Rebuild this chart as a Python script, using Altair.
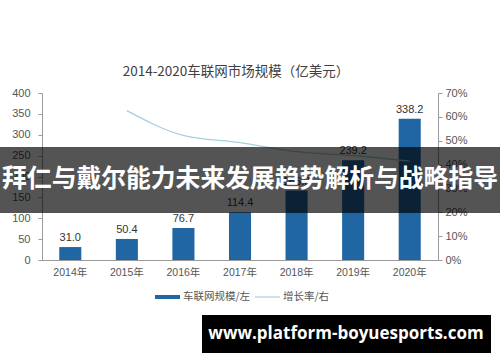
import altair as alt
import pandas as pd

years = ["2014年", "2015年", "2016年", "2017年", "2018年", "2019年", "2020年"]
market_size = [31.0, 50.4, 76.7, 114.4, 166.3, 239.2, 338.2]
growth_rate = [None, 0.626, 0.522, 0.492, 0.454, 0.438, 0.414]
left_ticks = [0, 50, 100, 150, 200, 250, 300, 350, 400]
right_ticks = [0, 0.1, 0.2, 0.3, 0.4, 0.5, 0.6, 0.7]

title_text = "2014-2020车联网市场规模（亿美元）"
legend_bar = "车联网规模/左"
legend_line = "增长率/右"
banner_text = "拜仁与戴尔能力未来发展趋势解析与战略指导"
site_text = "www.platform-boyuesports.com"

df = pd.DataFrame({"year": years, "size": market_size, "growth": growth_rate})
one = pd.DataFrame({"k": [0]})

BAR = "#1f66a3"
LINE = "#a6d0dc"
FONT = "Liberation Sans, Noto Sans CJK SC"
CJK = "Noto Sans CJK SC"

xscale = alt.Scale(paddingInner=0.61, paddingOuter=0.305)
x_axis = alt.Axis(title=None, labelAngle=0, ticks=False, domainColor="#9a9a9a",
                  labelColor="#555555", labelFontSize=10.5, labelPadding=7, labelFont=FONT)
x = alt.X("year:N", sort=years, scale=xscale, axis=x_axis)

ldomain = alt.Scale(domain=[0, 400])
yleft = alt.Y("size:Q", scale=ldomain,
              axis=alt.Axis(title=None, values=left_ticks, grid=False, domainColor="#9a9a9a",
                            tickColor="#9a9a9a", tickSize=4, labelColor="#555555",
                            labelFontSize=11, labelFont=FONT, labelPadding=8))

bars = alt.Chart(df).mark_bar(color=BAR).encode(x=x, y=yleft)
labels = alt.Chart(df).mark_text(dy=-9, fontSize=11, color="#333333", font=FONT).encode(
    x=x, y=alt.Y("size:Q", scale=ldomain, axis=None), text=alt.Text("size:Q", format=".1f"))

line = alt.Chart(df).transform_filter("isValid(datum.growth)").mark_line(
    interpolate="monotone", color=LINE, strokeWidth=1.3).encode(
    x=alt.X("year:N", sort=years, scale=xscale, axis=x_axis, bandPosition=0.5),
    y=alt.Y("growth:Q", scale=alt.Scale(domain=[0, 0.7]),
            axis=alt.Axis(title=None, orient="right", format=".0%", values=right_ticks,
                          grid=False, domainColor="#9a9a9a", tickColor="#9a9a9a", tickSize=4,
                          labelColor="#555555", labelFontSize=11, labelFont=FONT, labelPadding=3)))

title = alt.Chart(one).mark_text(text=title_text, fontSize=13.5, color="#404040", font=CJK).encode(
    x=alt.value(194), y=alt.value(-21))

leg_bar = alt.Chart(one).mark_rule(color=BAR, strokeWidth=4).encode(
    x=alt.value(113), x2=alt.value(138), y=alt.value(204))
leg_bar_t = alt.Chart(one).mark_text(text=legend_bar, fontSize=10.5, color="#555555", font=CJK,
                                     align="left").encode(x=alt.value(141), y=alt.value(204))
leg_line = alt.Chart(one).mark_rule(color=LINE, strokeWidth=1.2).encode(
    x=alt.value(213), x2=alt.value(238), y=alt.value(204))
leg_line_t = alt.Chart(one).mark_text(text=legend_line, fontSize=10.5, color="#555555", font=CJK,
                                      align="left").encode(x=alt.value(241), y=alt.value(204))

banner = alt.Chart(one).mark_rect(color="#000000", opacity=0.67).encode(
    x=alt.value(-42), x2=alt.value(458), y=alt.value(54), y2=alt.value(120))
banner_t = alt.Chart(one).mark_text(text=banner_text, fontSize=24.8, fontWeight="bold", color="white",
                                    font=CJK).encode(x=alt.value(208), y=alt.value(87))
site = alt.Chart(one).mark_rect(color="#000000").encode(
    x=alt.value(160), x2=alt.value(449), y=alt.value(222), y2=alt.value(260))
site_t = alt.Chart(one).mark_text(text=site_text, fontSize=17, fontWeight="bold", color="white",
                                  font="Open Sans").encode(x=alt.value(304), y=alt.value(241))

chart = alt.layer(
    bars, labels, line, title, leg_bar, leg_bar_t, leg_line, leg_line_t,
    banner, banner_t, site, site_t
).resolve_scale(y="independent").properties(
    width=396, height=167,
    autosize=alt.AutoSizeParams(type="none"),
    padding={"left": 42, "top": 93, "right": 62, "bottom": 102},
    background="white",
).configure_view(stroke=None)

chart.save("out.html", embed_options={"renderer": "svg", "actions": False})
